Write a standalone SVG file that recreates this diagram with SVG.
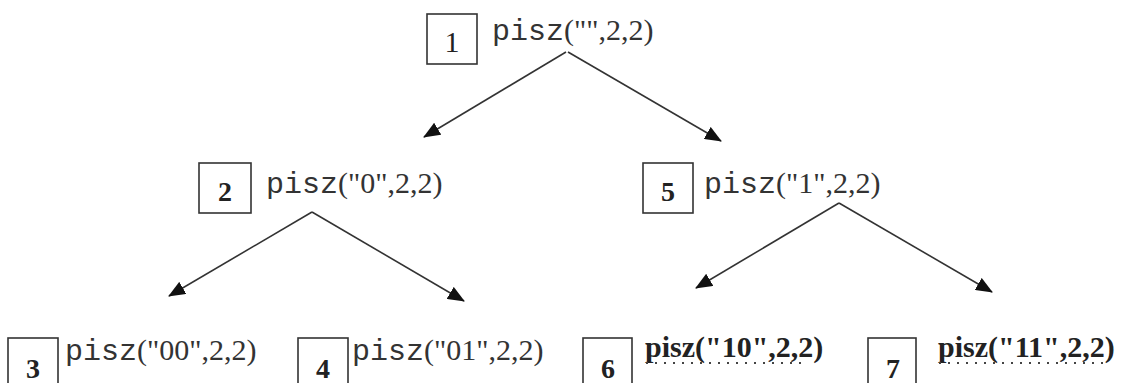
<svg xmlns="http://www.w3.org/2000/svg" width="1121" height="383" viewBox="0 0 1121 383">
<defs>
<style>
.box{fill:#fff;stroke:#333;stroke-width:1.6}
.num{font-family:"Liberation Serif","Times New Roman",serif;font-size:28px;font-weight:bold;fill:#222;text-anchor:middle}
.num1{font-family:"Liberation Serif","Times New Roman",serif;font-size:30px;fill:#222;text-anchor:middle}
.lbl{font-family:"Liberation Serif","Times New Roman",serif;font-size:30px;fill:#333}
.mono{font-family:"Liberation Mono","Courier New",monospace}
.blbl{font-family:"Liberation Serif","Times New Roman",serif;font-size:30px;font-weight:bold;fill:#222}
.dots{stroke:#444;stroke-width:2;stroke-dasharray:2 7;fill:none}
.edge{stroke:#333;stroke-width:1.6;fill:none;marker-end:url(#ah)}
</style>
<marker id="ah" viewBox="0 0 17 14" refX="16" refY="7" markerWidth="17" markerHeight="14" markerUnits="userSpaceOnUse" orient="auto">
<path d="M0,0 L17,7 L0,14 z" fill="#111"/>
</marker>
</defs>
<rect width="1121" height="383" fill="#fff"/>
<g id="connectors">
<line class="edge" x1="566" y1="52" x2="424" y2="137"/>
<line class="edge" x1="568" y1="52" x2="721" y2="141"/>
<line class="edge" x1="312" y1="212" x2="169" y2="296"/>
<line class="edge" x1="312" y1="212" x2="464" y2="301"/>
<line class="edge" x1="839" y1="203" x2="696" y2="288"/>
<line class="edge" x1="839" y1="203" x2="992" y2="292"/>
</g>
<g id="node1">
<rect class="box" x="427" y="14" width="50" height="50"/>
<text class="num1" x="452" y="52">1</text>
<text class="lbl" x="492" y="40"><tspan class="mono">pisz</tspan>("",2,2)</text>
</g>
<g id="node2">
<rect class="box" x="199" y="163" width="52" height="50"/>
<text class="num" x="225" y="201">2</text>
<text class="lbl" x="266" y="193"><tspan class="mono">pisz</tspan>("0",2,2)</text>
</g>
<g id="node5">
<rect class="box" x="643" y="163" width="50" height="50"/>
<text class="num" x="668" y="201">5</text>
<text class="lbl" x="704" y="193"><tspan class="mono">pisz</tspan>("1",2,2)</text>
</g>
<g id="node3">
<rect class="box" x="8" y="338" width="50" height="60"/>
<text class="num" x="33" y="378">3</text>
<text class="lbl" x="65" y="360"><tspan class="mono">pisz</tspan>("00",2,2)</text>
</g>
<g id="node4">
<rect class="box" x="298" y="338" width="50" height="60"/>
<text class="num" x="323" y="378">4</text>
<text class="lbl" x="352" y="360"><tspan class="mono">pisz</tspan>("01",2,2)</text>
</g>
<g id="node6">
<rect class="box" x="583" y="338" width="49" height="60"/>
<text class="num" x="608" y="378">6</text>
<text class="blbl" x="645" y="357">pisz("10",2,2)</text>
<line class="dots" x1="646" y1="363" x2="806" y2="363"/>
</g>
<g id="node7">
<rect class="box" x="868" y="338" width="48" height="60"/>
<text class="num" x="893" y="378">7</text>
<text class="blbl" x="938" y="357">pisz("11",2,2)</text>
<line class="dots" x1="939" y1="363" x2="1106" y2="363"/>
</g>
</svg>
